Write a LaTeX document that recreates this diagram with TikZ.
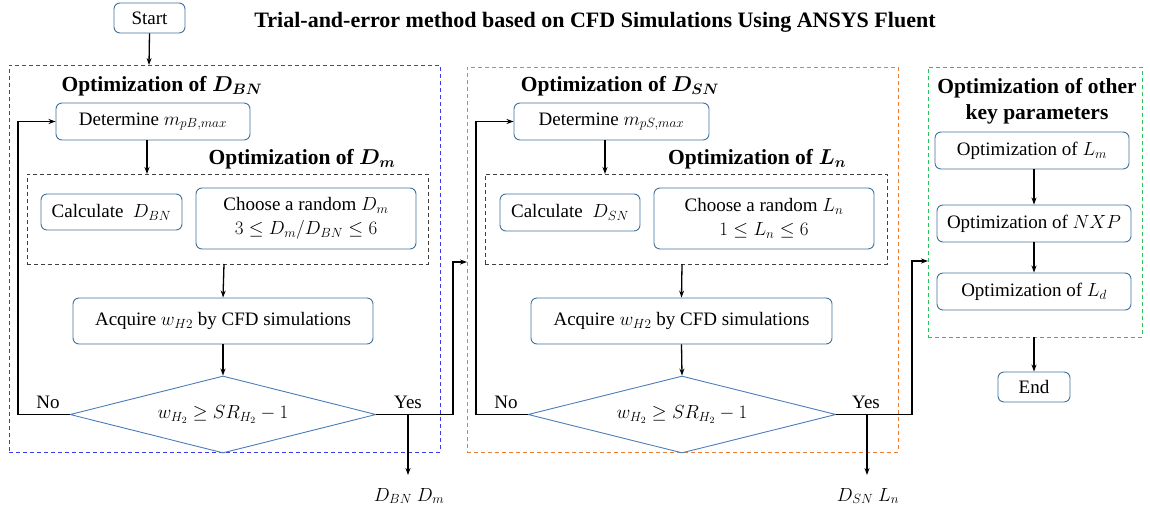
\RequirePackage{fix-cm}
\documentclass[tikz,border=0pt]{standalone}
\usepackage{amsmath}
\usepackage{fontspec}
\setmainfont{Liberation Serif}
\usetikzlibrary{shapes.geometric,arrows.meta,calc}
\definecolor{boxc}{HTML}{41719C}
\definecolor{diac}{HTML}{4A7EBB}
\definecolor{bluef}{HTML}{3A3AF0}
\definecolor{orangef}{HTML}{ED7D31}
\definecolor{greenf}{HTML}{2EC25E}
\definecolor{grayf}{HTML}{404040}
\tikzset{
  stepbox/.style={draw=boxc, line width=0.9pt, rounded corners=6pt, fill=white, inner sep=0pt, align=center, font=\fontsize{19}{24}\selectfont},
  decbox/.style={diamond, draw=diac, line width=0.9pt, aspect=4, inner sep=0pt, font=\fontsize{19}{24}\selectfont},
  frame/.style={dashed, dash pattern=on 4pt off 3pt, line width=0.9pt, inner sep=0pt},
  head/.style={font=\fontsize{21.5}{26}\selectfont\bfseries\boldmath, inner sep=0pt, align=center},
  ttl/.style={font=\fontsize{22}{26}\selectfont\bfseries, inner sep=0pt},
  lbl/.style={font=\fontsize{19}{24}\selectfont, inner sep=0pt},
  arr/.style={-{Stealth[length=7pt,width=5pt]}, line width=1.3pt},
  ln/.style={line width=1.3pt}
}
\begin{document}
\begin{tikzpicture}[x=1pt,y=-1pt]
\useasboundingbox (0,0) rectangle (1150,514);
% title
\node[ttl] (title) at (595,22) {Trial-and-error method based on CFD Simulations Using ANSYS Fluent};
\node[stepbox, minimum width=71, minimum height=30] (start) at (149.5,18) {Start};

% frames
\node[frame, draw=bluef, minimum width=431, minimum height=387] (blueF) at (224.5,258.5) {};
\node[frame, draw=grayf, minimum width=401, minimum height=90] (dash1) at (227.5,219) {};
\node[frame, draw=orangef, minimum width=431, minimum height=385] (orangeF) at (682.5,259.5) {};
\node[frame, draw=grayf, minimum width=402, minimum height=90] (dash2) at (686,219) {};
\node[frame, draw=greenf, minimum width=214, minimum height=270] (greenF) at (1035,202) {};

% headings
\node[head] (h1) at (162,86) {Optimization of $D_{BN}$};
\node[head] (h2) at (302,159) {Optimization of $D_{m}$};
\node[head] (h3) at (620,86) {Optimization of $D_{SN}$};
\node[head] (h4) at (757,159) {Optimization of $L_{n}$};
\node[head] (h5) at (1037,101) {Optimization of other\\key parameters};

% block 1
\node[stepbox, minimum width=194, minimum height=37] (detB) at (153,121.5) {Determine $m_{pB,max}$};
\node[stepbox, minimum width=141, minimum height=36] (calcB) at (111.5,212) {Calculate\ \ $D_{BN}$};
\node[stepbox, minimum width=220, minimum height=61] (choB) at (306,218.5) {Choose a random $D_m$\\ $3\le D_m/D_{BN}\le 6$};
\node[stepbox, minimum width=300, minimum height=46] (acqB) at (223,321) {Acquire $w_{H2}$ by CFD simulations};
\node[decbox, minimum width=306, minimum height=77] (diaB) at (223,414.5) {$w_{H_2}\ge SR_{H_2}-1$};

% block 2
\node[stepbox, minimum width=195, minimum height=37] (detS) at (611.5,121.5) {Determine $m_{pS,max}$};
\node[stepbox, minimum width=140, minimum height=37] (calcS) at (570,212.5) {Calculate\ \ $D_{SN}$};
\node[stepbox, minimum width=220, minimum height=61] (choS) at (764,218.5) {Choose a random $L_n$\\ $1\le L_n\le 6$};
\node[stepbox, minimum width=301, minimum height=46] (acqS) at (681.5,321) {Acquire $w_{H2}$ by CFD simulations};
\node[decbox, minimum width=308, minimum height=77] (diaS) at (682,414.5) {$w_{H_2}\ge SR_{H_2}-1$};

% block 3
\node[stepbox, minimum width=194, minimum height=37] (optLm) at (1032,150.5) {Optimization of $L_m$};
\node[stepbox, minimum width=194, minimum height=37] (optNXP) at (1034,223.5) {Optimization of $NXP$};
\node[stepbox, minimum width=194, minimum height=37] (optLd) at (1034,291.5) {Optimization of $L_d$};
\node[stepbox, minimum width=72, minimum height=30] (endN) at (1034,387) {End};

% labels
\node[lbl] (no1) at (48,402) {No};
\node[lbl] (yes1) at (408,402) {Yes};
\node[lbl] (no2) at (506,402) {No};
\node[lbl] (yes2) at (866,402) {Yes};
\node[lbl] (out1) at (409,496) {$D_{BN}\ D_m$};
\node[lbl] (out2) at (868,496) {$D_{SN}\ L_n$};

% coordinates
\coordinate (bt) at (149,65);
\coordinate (d1t) at (147,174);
\coordinate (d1b) at (224,264);
\coordinate (d2t) at (605,174);
\coordinate (d2b) at (682,264);
\coordinate (oL) at (467,262);
\coordinate (gL) at (928,261);
\coordinate (y1) at (408,414.5);
\coordinate (y1e) at (408,475);
\coordinate (y2) at (867,414.5);
\coordinate (y2e) at (867,475);
\coordinate (gB) at (1034,337);

% connectors
\draw[arr] (start.south) -- (bt);
\draw[arr] (detB.south -| d1t) -- (d1t);
\draw[arr] (d1b) -- (acqB.north);
\draw[arr] (acqB.south) -- (diaB.north);
\draw[arr] (diaB.west) -- (18,414.5) -- (18,121.5) -- (detB.west);
\draw[arr] (diaB.east) -- (453,414.5) -- (453,262) -- (oL);
\draw[arr] (y1) -- (y1e);

\draw[arr] (detS.south -| d2t) -- (d2t);
\draw[arr] (d2b) -- (acqS.north);
\draw[arr] (acqS.south) -- (diaS.north);
\draw[arr] (diaS.west) -- (476,414.5) -- (476,121.5) -- (detS.west);
\draw[arr] (diaS.east) -- (912,414.5) -- (912,261) -- (gL);
\draw[arr] (y2) -- (y2e);

\draw[arr] (optLm.south -| optNXP.north) -- (optNXP.north);
\draw[arr] (optNXP.south) -- (optLd.north);
\draw[arr] (gB) -- (endN.north);
\end{tikzpicture}
\end{document}
